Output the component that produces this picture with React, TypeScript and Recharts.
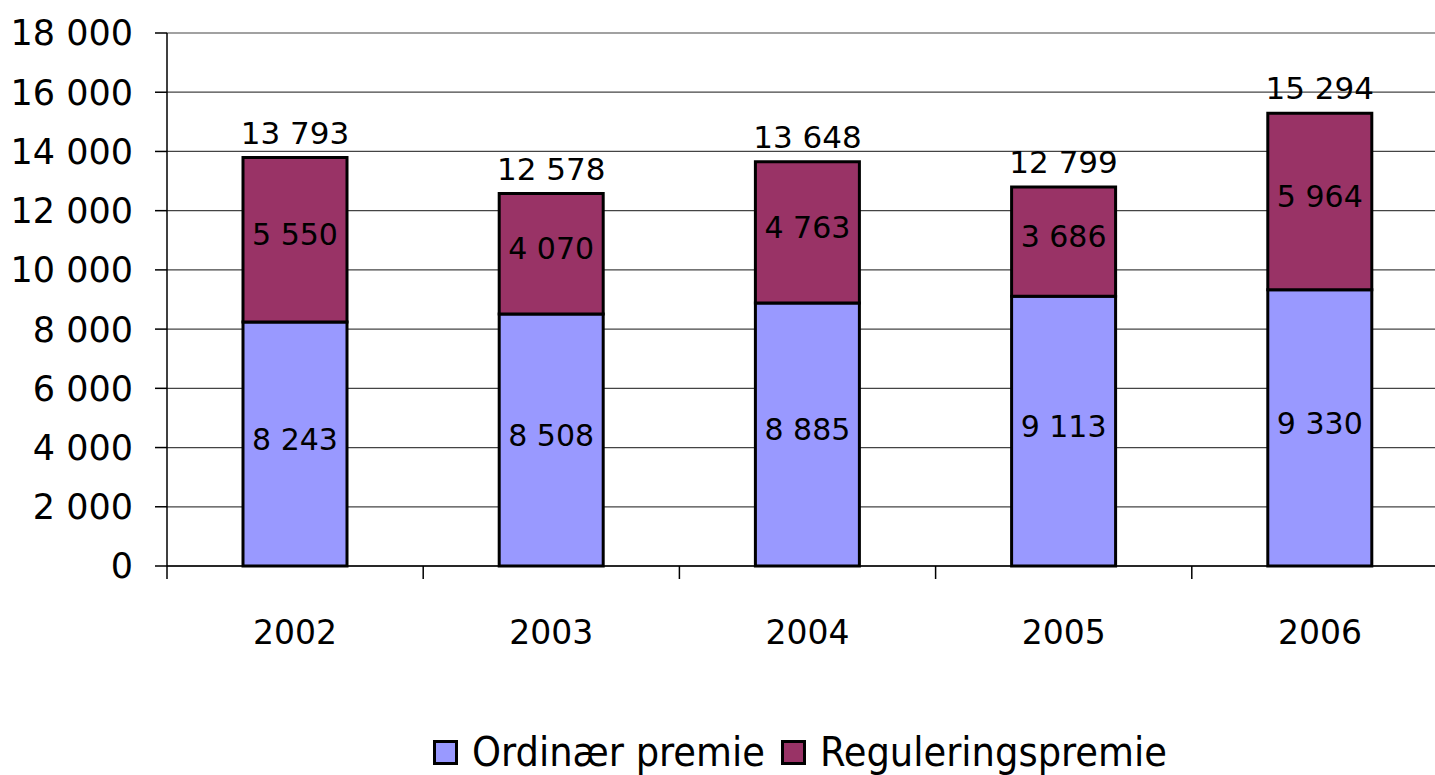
import { BarChart, Bar, XAxis, YAxis, CartesianGrid, Legend, LabelList } from 'recharts'

const years = ['2002', '2003', '2004', '2005', '2006']
const ordinaer = [8243, 8508, 8885, 9113, 9330]
const regulering = [5550, 4070, 4763, 3686, 5964]
const yTicks = [0, 2000, 4000, 6000, 8000, 10000, 12000, 14000, 16000, 18000]

const seriesNames = ['Ordinær premie', 'Reguleringspremie']
const COLORS = ['#9999FF', '#993366']

const FONT = '"DejaVu Sans", sans-serif'
const LEGEND_FONT = '"DejaVu Sans Condensed", "DejaVu Sans", sans-serif'
const CHART_W = 1460
const PLOT_LEFT = 167
const PLOT_RIGHT = 1448

const data = years.map((year, i) => ({
  year,
  ordinaer: ordinaer[i],
  regulering: regulering[i],
  total: ordinaer[i] + regulering[i],
}))

const fmt = (n: number) => String(n).replace(/\B(?=(\d{3})+(?!\d))/g, ' ')

const XTick = (props: any) => {
  const { x, y, payload } = props
  const band = (PLOT_RIGHT - PLOT_LEFT) / years.length
  const lx = x - band / 2
  return (
    <g>
      <line x1={lx} x2={lx} y1={y} y2={y + 13} stroke="#000" strokeWidth={1.5} />
      <text x={x} y={y + 78} textAnchor="middle" fontSize={33} fontFamily={FONT} fill="#000">
        {payload.value}
      </text>
    </g>
  )
}

const InnerLabel = (props: any) => {
  const { x, y, width, height, value } = props
  return (
    <text x={x + width / 2} y={y + height / 2 - 5} dy="0.355em" textAnchor="middle" fontSize={30} fontFamily={FONT} fill="#000">
      {fmt(value)}
    </text>
  )
}

const TotalLabel = (props: any) => {
  const { x, y, width, index } = props
  return (
    <text x={x + width / 2} y={y - 14} textAnchor="middle" fontSize={31} fontFamily={FONT} fill="#000">
      {fmt(data[index].total)}
    </text>
  )
}

const LegendContent = () => (
  <div
    style={{
      display: 'flex',
      justifyContent: 'center',
      alignItems: 'center',
      height: 46,
      fontFamily: LEGEND_FONT,
      fontStretch: 'condensed',
      fontSize: 41,
      color: '#000',
      width: 1435,
      paddingLeft: 165,
      boxSizing: 'border-box',
    }}
  >
    {seriesNames.map((name, i) => (
      <div key={name} style={{ display: 'flex', alignItems: 'center', marginLeft: i > 0 ? 16 : 0 }}>
        <span
          style={{
            display: 'inline-block',
            width: 19,
            height: 19,
            background: COLORS[i],
            border: '3px solid #000',
            marginRight: 14,
          }}
        />
        <span>{name}</span>
      </div>
    ))}
  </div>
)

export default function App() {
  return (
    <div style={{ position: 'absolute', left: 0, top: 0, width: 1435, height: 775, overflow: 'hidden', background: '#fff' }}>
      <BarChart
        width={CHART_W}
        height={775}
        data={data}
        margin={{ top: 33, right: CHART_W - PLOT_RIGHT, left: 0, bottom: 0 }}
        barSize={104}
      >
        <CartesianGrid vertical={false} stroke="#444" strokeWidth={1.2} />
        <XAxis
          dataKey="year"
          height={163}
          axisLine={{ stroke: '#000', strokeWidth: 1.5 }}
          tickLine={false}
          tickSize={0}
          tickMargin={0}
          tick={<XTick />}
          interval={0}
        />
        <YAxis
          width={PLOT_LEFT}
          domain={[0, 18000]}
          ticks={yTicks}
          interval={0}
          axisLine={{ stroke: '#000', strokeWidth: 1.5 }}
          tickLine={{ stroke: '#000', strokeWidth: 1.5 }}
          tickSize={12}
          tickMargin={22}
          tickFormatter={fmt}
          tick={{ fontSize: 35, fontFamily: FONT, fill: '#000' }}
        />
        <Legend verticalAlign="bottom" content={<LegendContent />} />
        <Bar dataKey="ordinaer" name={seriesNames[0]} stackId="a" fill={COLORS[0]} stroke="#000" strokeWidth={3} isAnimationActive={false}>
          <LabelList dataKey="ordinaer" content={<InnerLabel />} />
        </Bar>
        <Bar dataKey="regulering" name={seriesNames[1]} stackId="a" fill={COLORS[1]} stroke="#000" strokeWidth={3} isAnimationActive={false}>
          <LabelList dataKey="regulering" content={<InnerLabel />} />
          <LabelList dataKey="total" content={<TotalLabel />} />
        </Bar>
      </BarChart>
    </div>
  )
}
